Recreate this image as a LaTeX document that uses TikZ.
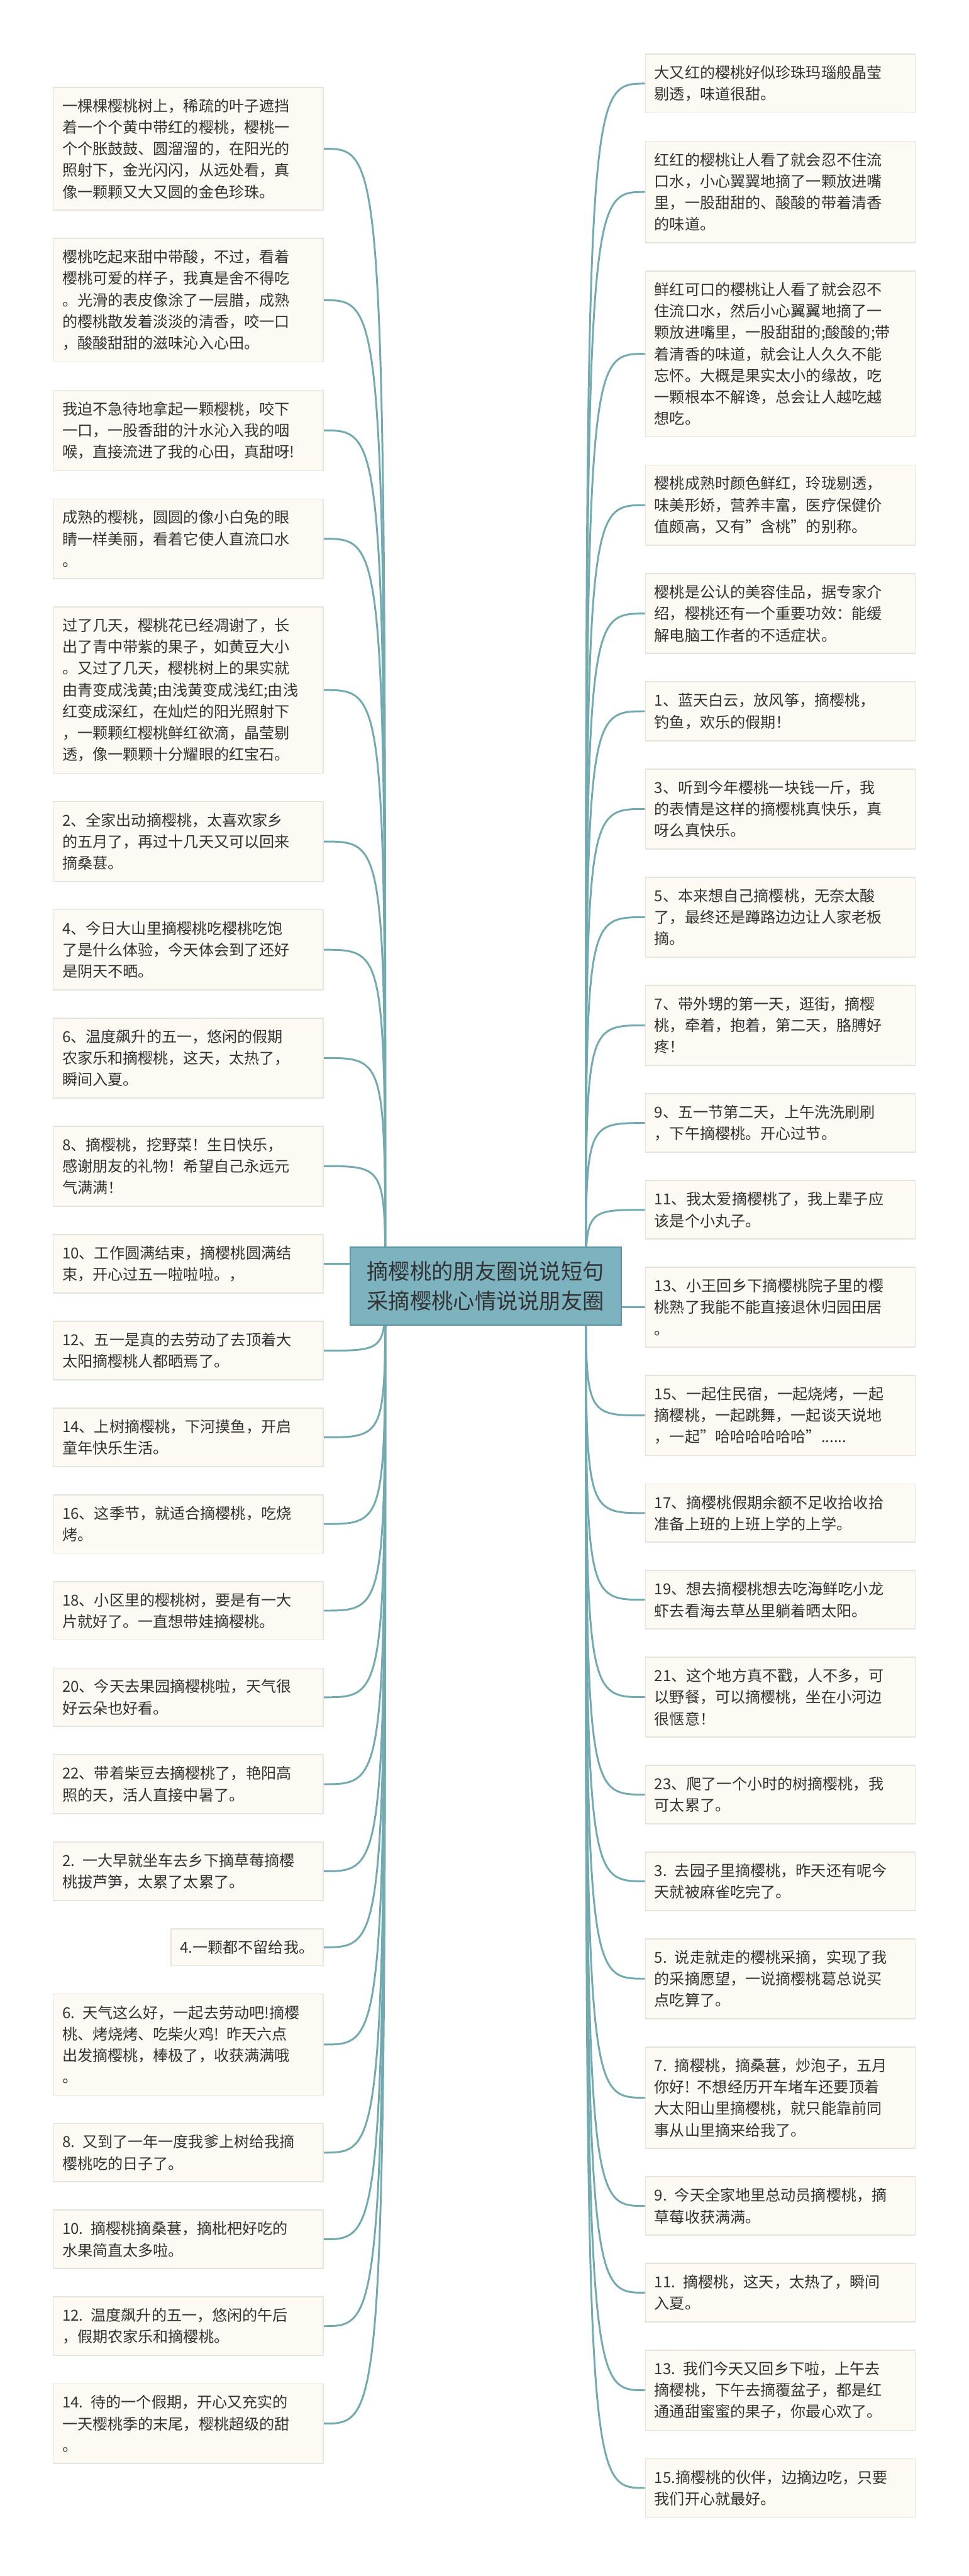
\documentclass[tikz,border=0pt]{standalone}
\usepackage{fontspec}
\setmainfont{Noto Sans CJK SC}
\usetikzlibrary{positioning}

\definecolor{linkc}{HTML}{72AAB0}
\definecolor{leaffill}{HTML}{FCFAF2}
\definecolor{leafline}{HTML}{E4E4DC}
\definecolor{rootfill}{HTML}{7DB3BF}
\definecolor{rootline}{HTML}{5B95A3}
\definecolor{txt}{HTML}{333333}

\pgfdeclarelayer{edges}
\pgfsetlayers{edges,main}

\begin{document}
\begin{tikzpicture}[
      leaf/.style={rectangle, draw=leafline, fill=leaffill, line width=0.8pt, text=txt,
        font=\fontsize{11.4pt}{16.2pt}\selectfont, inner xsep=0.24cm, inner ysep=0.30cm, align=left},
      lleaf/.style={leaf, text width=6.65cm},
      rleaf/.style={leaf, text width=6.65cm},
      root/.style={rectangle, draw=rootline, fill=rootfill, line width=1pt, text=txt,
        font=\fontsize{16.2pt}{22.2pt}\selectfont, inner xsep=0.45cm, inner ysep=0.37cm, align=center},
      link/.style={draw=linkc, line width=1.4pt}
      ]
      \useasboundingbox (0,0) rectangle (25.6,-68.06);

      \node[root] (root) at (12.83,-33.98) {摘樱桃的朋友圈说说短句\\采摘樱桃心情说说朋友圈};
      \coordinate (cl) at ([xshift=0.95cm]root.west);
      \coordinate (cr) at ([xshift=-0.95cm]root.east);

      %left side
      \node[lleaf, anchor=north east] (l1) at (8.55,-2.29) {一棵棵樱桃树上，稀疏的叶子遮挡\\着一个个黄中带红的樱桃，樱桃一\\个个胀鼓鼓、圆溜溜的，在阳光的\\照射下，金光闪闪，从远处看，真\\像一颗颗又大又圆的金色珍珠。};
      \node[lleaf, below left=0.72cm and 0cm of l1.south east] (l2) {樱桃吃起来甜中带酸，不过，看着\\樱桃可爱的样子，我真是舍不得吃\\。光滑的表皮像涂了一层腊，成熟\\的樱桃散发着淡淡的清香，咬一口\\，酸酸甜甜的滋味沁入心田。};
      \node[lleaf, below left=0.72cm and 0cm of l2.south east] (l3) {我迫不急待地拿起一颗樱桃，咬下\\一口，一股香甜的汁水沁入我的咽\\喉，直接流进了我的心田，真甜呀!};
      \node[lleaf, below left=0.72cm and 0cm of l3.south east] (l4) {成熟的樱桃，圆圆的像小白兔的眼\\睛一样美丽，看着它使人直流口水\\。};
      \node[lleaf, below left=0.72cm and 0cm of l4.south east] (l5) {过了几天，樱桃花已经凋谢了，长\\出了青中带紫的果子，如黄豆大小\\。又过了几天，樱桃树上的果实就\\由青变成浅黄;由浅黄变成浅红;由浅\\红变成深红，在灿烂的阳光照射下\\，一颗颗红樱桃鲜红欲滴，晶莹剔\\透，像一颗颗十分耀眼的红宝石。};
      \node[lleaf, below left=0.72cm and 0cm of l5.south east] (l6) {2、全家出动摘樱桃，太喜欢家乡\\的五月了，再过十几天又可以回来\\摘桑葚。};
      \node[lleaf, below left=0.72cm and 0cm of l6.south east] (l7) {4、今日大山里摘樱桃吃樱桃吃饱\\了是什么体验，今天体会到了还好\\是阴天不晒。};
      \node[lleaf, below left=0.72cm and 0cm of l7.south east] (l8) {6、温度飙升的五一，悠闲的假期\\农家乐和摘樱桃，这天，太热了，\\瞬间入夏。};
      \node[lleaf, below left=0.72cm and 0cm of l8.south east] (l9) {8、摘樱桃，挖野菜！生日快乐，\\感谢朋友的礼物！希望自己永远元\\气满满！};
      \node[lleaf, below left=0.72cm and 0cm of l9.south east] (l10) {10、工作圆满结束，摘樱桃圆满结\\束，开心过五一啦啦啦。，};
      \node[lleaf, below left=0.72cm and 0cm of l10.south east] (l11) {12、五一是真的去劳动了去顶着大\\太阳摘樱桃人都晒焉了。};
      \node[lleaf, below left=0.72cm and 0cm of l11.south east] (l12) {14、上树摘樱桃，下河摸鱼，开启\\童年快乐生活。};
      \node[lleaf, below left=0.72cm and 0cm of l12.south east] (l13) {16、这季节，就适合摘樱桃，吃烧\\烤。};
      \node[lleaf, below left=0.72cm and 0cm of l13.south east] (l14) {18、小区里的樱桃树，要是有一大\\片就好了。一直想带娃摘樱桃。};
      \node[lleaf, below left=0.72cm and 0cm of l14.south east] (l15) {20、今天去果园摘樱桃啦，天气很\\好云朵也好看。};
      \node[lleaf, below left=0.72cm and 0cm of l15.south east] (l16) {22、带着柴豆去摘樱桃了，艳阳高\\照的天，活人直接中暑了。};
      \node[lleaf, below left=0.72cm and 0cm of l16.south east] (l17) {2. 一大早就坐车去乡下摘草莓摘樱\\桃拔芦笋，太累了太累了。};
      \node[leaf, below left=0.72cm and 0cm of l17.south east] (l18) {4.一颗都不留给我。};
      \node[lleaf, below left=0.72cm and 0cm of l18.south east] (l19) {6. 天气这么好，一起去劳动吧!摘樱\\桃、烤烧烤、吃柴火鸡! 昨天六点\\出发摘樱桃，棒极了，收获满满哦\\。};
      \node[lleaf, below left=0.72cm and 0cm of l19.south east] (l20) {8. 又到了一年一度我爹上树给我摘\\樱桃吃的日子了。};
      \node[lleaf, below left=0.72cm and 0cm of l20.south east] (l21) {10. 摘樱桃摘桑葚，摘枇杷好吃的\\水果简直太多啦。};
      \node[lleaf, below left=0.72cm and 0cm of l21.south east] (l22) {12. 温度飙升的五一，悠闲的午后\\，假期农家乐和摘樱桃。};
      \node[lleaf, below left=0.72cm and 0cm of l22.south east] (l23) {14. 待的一个假期，开心又充实的\\一天樱桃季的末尾，樱桃超级的甜\\。};

      %right side
      \node[rleaf, anchor=north west] (r1) at (17.04,-1.42) {大又红的樱桃好似珍珠玛瑙般晶莹\\剔透，味道很甜。};
      \node[rleaf, below right=0.72cm and 0cm of r1.south west] (r2) {红红的樱桃让人看了就会忍不住流\\口水，小心翼翼地摘了一颗放进嘴\\里，一股甜甜的、酸酸的带着清香\\的味道。};
      \node[rleaf, below right=0.72cm and 0cm of r2.south west] (r3) {鲜红可口的樱桃让人看了就会忍不\\住流口水，然后小心翼翼地摘了一\\颗放进嘴里，一股甜甜的;酸酸的;带\\着清香的味道，就会让人久久不能\\忘怀。大概是果实太小的缘故，吃\\一颗根本不解谗，总会让人越吃越\\想吃。};
      \node[rleaf, below right=0.72cm and 0cm of r3.south west] (r4) {樱桃成熟时颜色鲜红，玲珑剔透，\\味美形娇，营养丰富，医疗保健价\\值颇高，又有"含桃"的别称。};
      \node[rleaf, below right=0.72cm and 0cm of r4.south west] (r5) {樱桃是公认的美容佳品，据专家介\\绍，樱桃还有一个重要功效：能缓\\解电脑工作者的不适症状。};
      \node[rleaf, below right=0.72cm and 0cm of r5.south west] (r6) {1、蓝天白云，放风筝，摘樱桃，\\钓鱼，欢乐的假期！};
      \node[rleaf, below right=0.72cm and 0cm of r6.south west] (r7) {3、听到今年樱桃一块钱一斤，我\\的表情是这样的摘樱桃真快乐，真\\呀么真快乐。};
      \node[rleaf, below right=0.72cm and 0cm of r7.south west] (r8) {5、本来想自己摘樱桃，无奈太酸\\了，最终还是蹲路边边让人家老板\\摘。};
      \node[rleaf, below right=0.72cm and 0cm of r8.south west] (r9) {7、带外甥的第一天，逛街，摘樱\\桃，牵着，抱着，第二天，胳膊好\\疼！};
      \node[rleaf, below right=0.72cm and 0cm of r9.south west] (r10) {9、五一节第二天，上午洗洗刷刷\\，下午摘樱桃。开心过节。};
      \node[rleaf, below right=0.72cm and 0cm of r10.south west] (r11) {11、我太爱摘樱桃了，我上辈子应\\该是个小丸子。};
      \node[rleaf, below right=0.72cm and 0cm of r11.south west] (r12) {13、小王回乡下摘樱桃院子里的樱\\桃熟了我能不能直接退休归园田居\\。};
      \node[rleaf, below right=0.72cm and 0cm of r12.south west] (r13) {15、一起住民宿，一起烧烤，一起\\摘樱桃，一起跳舞，一起谈天说地\\，一起"哈哈哈哈哈哈"......};
      \node[rleaf, below right=0.72cm and 0cm of r13.south west] (r14) {17、摘樱桃假期余额不足收拾收拾\\准备上班的上班上学的上学。};
      \node[rleaf, below right=0.72cm and 0cm of r14.south west] (r15) {19、想去摘樱桃想去吃海鲜吃小龙\\虾去看海去草丛里躺着晒太阳。};
      \node[rleaf, below right=0.72cm and 0cm of r15.south west] (r16) {21、这个地方真不戳，人不多，可\\以野餐，可以摘樱桃，坐在小河边\\很惬意！};
      \node[rleaf, below right=0.72cm and 0cm of r16.south west] (r17) {23、爬了一个小时的树摘樱桃，我\\可太累了。};
      \node[rleaf, below right=0.72cm and 0cm of r17.south west] (r18) {3. 去园子里摘樱桃，昨天还有呢今\\天就被麻雀吃完了。};
      \node[rleaf, below right=0.72cm and 0cm of r18.south west] (r19) {5. 说走就走的樱桃采摘，实现了我\\的采摘愿望，一说摘樱桃葛总说买\\点吃算了。};
      \node[rleaf, below right=0.72cm and 0cm of r19.south west] (r20) {7. 摘樱桃，摘桑葚，炒泡子，五月\\你好! 不想经历开车堵车还要顶着\\大太阳山里摘樱桃，就只能靠前同\\事从山里摘来给我了。};
      \node[rleaf, below right=0.72cm and 0cm of r20.south west] (r21) {9. 今天全家地里总动员摘樱桃，摘\\草莓收获满满。};
      \node[rleaf, below right=0.72cm and 0cm of r21.south west] (r22) {11. 摘樱桃，这天，太热了，瞬间\\入夏。};
      \node[rleaf, below right=0.72cm and 0cm of r22.south west] (r23) {13. 我们今天又回乡下啦，上午去\\摘樱桃，下午去摘覆盆子，都是红\\通通甜蜜蜜的果子，你最心欢了。};
      \node[rleaf, below right=0.72cm and 0cm of r23.south west] (r24) {15.摘樱桃的伙伴，边摘边吃，只要\\我们开心就最好。};

      \begin{pgfonlayer}{edges}
      %left edges
      \draw[link] (cl) .. controls (cl |- l1.east) .. (l1.east);
      \draw[link] (cl) .. controls (cl |- l2.east) .. (l2.east);
      \draw[link] (cl) .. controls (cl |- l3.east) .. (l3.east);
      \draw[link] (cl) .. controls (cl |- l4.east) .. (l4.east);
      \draw[link] (cl) .. controls (cl |- l5.east) .. (l5.east);
      \draw[link] (cl) .. controls (cl |- l6.east) .. (l6.east);
      \draw[link] (cl) .. controls (cl |- l7.east) .. (l7.east);
      \draw[link] (cl) .. controls (cl |- l8.east) .. (l8.east);
      \draw[link] (cl) .. controls (cl |- l9.east) .. (l9.east);
      \draw[link] (cl) .. controls (cl |- l10.east) .. (l10.east);
      \draw[link] (cl) .. controls (cl |- l11.east) .. (l11.east);
      \draw[link] (cl) .. controls (cl |- l12.east) .. (l12.east);
      \draw[link] (cl) .. controls (cl |- l13.east) .. (l13.east);
      \draw[link] (cl) .. controls (cl |- l14.east) .. (l14.east);
      \draw[link] (cl) .. controls (cl |- l15.east) .. (l15.east);
      \draw[link] (cl) .. controls (cl |- l16.east) .. (l16.east);
      \draw[link] (cl) .. controls (cl |- l17.east) .. (l17.east);
      \draw[link] (cl) .. controls (cl |- l18.east) .. (l18.east);
      \draw[link] (cl) .. controls (cl |- l19.east) .. (l19.east);
      \draw[link] (cl) .. controls (cl |- l20.east) .. (l20.east);
      \draw[link] (cl) .. controls (cl |- l21.east) .. (l21.east);
      \draw[link] (cl) .. controls (cl |- l22.east) .. (l22.east);
      \draw[link] (cl) .. controls (cl |- l23.east) .. (l23.east);

      %right edges
      \draw[link] (cr) .. controls (cr |- r1.west) .. (r1.west);
      \draw[link] (cr) .. controls (cr |- r2.west) .. (r2.west);
      \draw[link] (cr) .. controls (cr |- r3.west) .. (r3.west);
      \draw[link] (cr) .. controls (cr |- r4.west) .. (r4.west);
      \draw[link] (cr) .. controls (cr |- r5.west) .. (r5.west);
      \draw[link] (cr) .. controls (cr |- r6.west) .. (r6.west);
      \draw[link] (cr) .. controls (cr |- r7.west) .. (r7.west);
      \draw[link] (cr) .. controls (cr |- r8.west) .. (r8.west);
      \draw[link] (cr) .. controls (cr |- r9.west) .. (r9.west);
      \draw[link] (cr) .. controls (cr |- r10.west) .. (r10.west);
      \draw[link] (cr) .. controls (cr |- r11.west) .. (r11.west);
      \draw[link] (cr) .. controls (cr |- r12.west) .. (r12.west);
      \draw[link] (cr) .. controls (cr |- r13.west) .. (r13.west);
      \draw[link] (cr) .. controls (cr |- r14.west) .. (r14.west);
      \draw[link] (cr) .. controls (cr |- r15.west) .. (r15.west);
      \draw[link] (cr) .. controls (cr |- r16.west) .. (r16.west);
      \draw[link] (cr) .. controls (cr |- r17.west) .. (r17.west);
      \draw[link] (cr) .. controls (cr |- r18.west) .. (r18.west);
      \draw[link] (cr) .. controls (cr |- r19.west) .. (r19.west);
      \draw[link] (cr) .. controls (cr |- r20.west) .. (r20.west);
      \draw[link] (cr) .. controls (cr |- r21.west) .. (r21.west);
      \draw[link] (cr) .. controls (cr |- r22.west) .. (r22.west);
      \draw[link] (cr) .. controls (cr |- r23.west) .. (r23.west);
      \draw[link] (cr) .. controls (cr |- r24.west) .. (r24.west);
      \end{pgfonlayer}
\end{tikzpicture}
\end{document}
